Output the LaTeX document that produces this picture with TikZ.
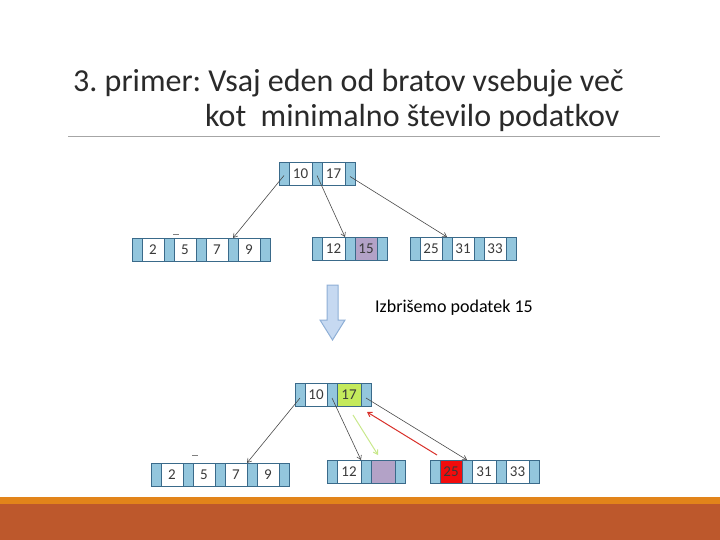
\documentclass[tikz,border=0pt]{standalone}
\usepackage{fontspec}
\setmainfont{Carlito}
\frenchspacing
\usetikzlibrary{arrows.meta}
\definecolor{bord}{HTML}{3A6A8A}
\definecolor{ptrc}{HTML}{93C6DD}
\definecolor{purp}{HTML}{B3A2C7}
\definecolor{lime}{HTML}{C4EA5C}
\definecolor{redc}{HTML}{F20C0C}
\definecolor{txt}{HTML}{3A3A3A}
\definecolor{ttl}{HTML}{2A2A2A}
\definecolor{edge}{HTML}{4A4A4A}
\definecolor{arrfill}{HTML}{C6D9F1}
\definecolor{arrline}{HTML}{8EAFD6}
\definecolor{orng}{HTML}{E2841A}
\definecolor{rust}{HTML}{BD582C}
\definecolor{greenarr}{HTML}{C8E88A}
\definecolor{redarr}{HTML}{D9302A}
\begin{document}
\begin{tikzpicture}[x=1pt,y=-1pt,
  ptr/.style={draw=bord, fill=ptrc, minimum width=10pt, minimum height=23pt, inner sep=0pt, outer sep=0pt, line width=0.9pt, anchor=west},
  keyc/.style={draw=bord, fill=white, minimum width=#1, minimum height=23pt, inner sep=0pt, outer sep=0pt, line width=0.9pt, anchor=west, font=\fontsize{15}{15}\selectfont, text=txt},
  keyc/.default=22pt,
  link/.style={draw=edge, line width=0.6pt, -{Straight Barb[length=4pt,width=5pt]}},
  dashmark/.style={draw=gray, line width=0.6pt}
]
\useasboundingbox (0,0) rectangle (720,540);
\fill[white] (0,0) rectangle (720,540);
% bottom bands
\fill[orng] (0,497) rectangle (720,504);
\fill[rust] (0,504) rectangle (720,540);
% title
\node[anchor=base west, text=ttl, font=\fontsize{32}{32}\selectfont, inner sep=0pt] (t1) at (73,92) {3. primer: Vsaj eden od bratov vsebuje več};
\node[anchor=base west, text=ttl, font=\fontsize{32}{32}\selectfont, inner sep=0pt] (t2) at (205,127) {kot\ \ minimalno število podatkov};
\draw[color=gray!70, line width=0.8pt] (68,136) -- (660,136);

% ---------- top tree ----------
% root
\node[ptr] (tp1) at (279,173.5) {};
\node[keyc=23pt] (tk1) at (tp1.east) {10};
\node[ptr] (tp2) at (tk1.east) {};
\node[keyc=23pt] (tk2) at (tp2.east) {17};
\node[ptr] (tp3) at (tk2.east) {};
% left leaf
\node[ptr] (tlp1) at (132,249.5) {};
\node[keyc] (tlk1) at (tlp1.east) {2};
\node[ptr] (tlp2) at (tlk1.east) {};
\node[keyc] (tlk2) at (tlp2.east) {5};
\node[ptr] (tlp3) at (tlk2.east) {};
\node[keyc] (tlk3) at (tlp3.east) {7};
\node[ptr] (tlp4) at (tlk3.east) {};
\node[keyc] (tlk4) at (tlp4.east) {9};
\node[ptr] (tlp5) at (tlk4.east) {};
% middle leaf
\node[ptr] (tmp1) at (312,248.5) {};
\node[keyc=23pt] (tmk1) at (tmp1.east) {12};
\node[ptr] (tmp2) at (tmk1.east) {};
\node[keyc, fill=purp] (tmk2) at (tmp2.east) {15};
\node[ptr] (tmp3) at (tmk2.east) {};
% right leaf
\node[ptr] (trp1) at (410,248.5) {};
\node[keyc] (trk1) at (trp1.east) {25};
\node[ptr] (trp2) at (trk1.east) {};
\node[keyc] (trk2) at (trp2.east) {31};
\node[ptr] (trp3) at (trk2.east) {};
\node[keyc] (trk3) at (trp3.east) {33};
\node[ptr] (trp4) at (trk3.east) {};
% links
\draw[link] ([yshift=-2pt]tp1.center) -- (tlp4.north);
\draw[link] ([yshift=-2pt]tp2.center) -- (tmk1.north east);
\draw[link] ([yshift=-3pt]tp3.center) -- (trp2.north);
\draw[dashmark] (173,234.5) -- (179,234.5);

% ---------- big arrow and label ----------
\draw[fill=arrfill, draw=arrline, line width=1pt, line join=miter]
  (327,285) -- (338,285) -- (338,320) -- (345,320) -- (332.5,340) -- (320,320) -- (327,320) -- cycle;
\node[anchor=west, text=black, font=\fontsize{18}{18}\selectfont, inner sep=0pt] (lbl) at (375,307.5) {Izbrišemo podatek 15};

% ---------- bottom tree ----------
\node[ptr] (bp1) at (295,395) {};
\node[keyc] (bk1) at (bp1.east) {10};
\node[ptr] (bp2) at (bk1.east) {};
\node[keyc=24pt, fill=lime] (bk2) at (bp2.east) {17};
\node[ptr] (bp3) at (bk2.east) {};
% left leaf
\node[ptr] (blp1) at (151,474.5) {};
\node[keyc] (blk1) at (blp1.east) {2};
\node[ptr] (blp2) at (blk1.east) {};
\node[keyc] (blk2) at (blp2.east) {5};
\node[ptr] (blp3) at (blk2.east) {};
\node[keyc] (blk3) at (blp3.east) {7};
\node[ptr] (blp4) at (blk3.east) {};
\node[keyc] (blk4) at (blp4.east) {9};
\node[ptr] (blp5) at (blk4.east) {};
% middle leaf
\node[ptr] (bmp1) at (327,471.5) {};
\node[keyc=24pt] (bmk1) at (bmp1.east) {12};
\node[ptr] (bmp2) at (bmk1.east) {};
\node[keyc=24pt, fill=purp] (bmk2) at (bmp2.east) {};
\node[ptr] (bmp3) at (bmk2.east) {};
% right leaf
\node[ptr] (brp1) at (430,471.5) {};
\node[keyc, fill=redc] (brk1) at (brp1.east) {25};
\node[ptr] (brp2) at (brk1.east) {};
\node[keyc=24pt] (brk2) at (brp2.east) {31};
\node[ptr] (brp3) at (brk2.east) {};
\node[keyc=23pt] (brk3) at (brp3.east) {33};
\node[ptr] (brp4) at (brk3.east) {};
% links
\draw[link] ([yshift=-3pt]bp1.center) -- (blp4.north west);
\draw[link] ([yshift=-3pt]bp2.center) -- (bmk1.north east);
\draw[link] ([yshift=-3pt]bp3.center) -- (brp2.north);
\coordinate (gs) at (353,415);
\coordinate (ge) at (378,455);
\coordinate (rs) at (437,455);
\coordinate (re) at (367,412);
\draw[draw=greenarr, line width=1pt, -{Straight Barb[length=4pt,width=5pt]}] (gs) -- (ge);
\draw[draw=redarr, line width=1pt, -{Straight Barb[length=4pt,width=5pt]}] (rs) -- (re);
\draw[dashmark] (192,455.5) -- (198,455.5);
\end{tikzpicture}
\end{document}
